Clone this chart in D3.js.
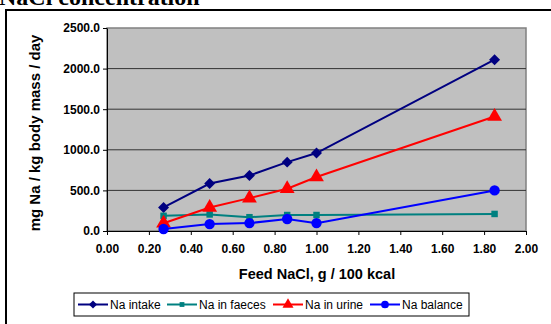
<!DOCTYPE html>
<html>
<head>
<meta charset="utf-8">
<script src="https://cdn.jsdelivr.net/npm/d3@7"></script>
<style>
body{margin:0;background:#fff;}
svg{display:block;}
.axis text{font-family:Arial,"Liberation Sans",sans-serif;font-weight:bold;font-size:12px;fill:#000;}
.axis path,.axis line{stroke:#000;}
</style>
</head>
<body>
<div id="graph"></div>
<script>
// data
var feedNaCl = [0.27, 0.49, 0.68, 0.86, 1.00, 1.85];
var naIntake = [290, 585, 683, 848, 960, 2110];
var naFaeces = [187, 204, 170, 197, 197, 210];
var naUrine = [95, 290, 405, 520, 665, 1410];
var naBalance = [25, 85, 97, 148, 97, 500];
var seriesNames = ["Na intake", "Na in faeces", "Na in urine", "Na balance"];
var xTicks = [0, 0.2, 0.4, 0.6, 0.8, 1.0, 1.2, 1.4, 1.6, 1.8, 2.0];
var yTicks = [0, 500, 1000, 1500, 2000, 2500];

var W = 551, H = 324;
var plot = {left: 107, right: 526, top: 28, bottom: 231};

var svg = d3.select('#graph').append('svg')
    .attr('width', W)
    .attr('height', H);

// title, cut off at the top like in the original
svg.append('text')
    .attr('x', -1)
    .attr('y', 5)
    .style('font-family', '"Liberation Serif","Times New Roman",serif')
    .style('font-weight', 'bold')
    .style('font-size', '24px')
    .text('NaCl concentration');

// chart box
svg.append('path')
    .attr('d', 'M' + 6 + ',' + (H + 5) + 'V10H' + (W + 5))
    .attr('fill', 'none')
    .attr('stroke', '#000')
    .attr('stroke-width', 2);

var xScale = d3.scaleLinear().domain([0, 2]).range([plot.left, plot.right]);
var yScale = d3.scaleLinear().domain([0, 2500]).range([plot.bottom, plot.top]);

// plot area
svg.append('rect')
    .attr('x', plot.left)
    .attr('y', plot.top)
    .attr('width', plot.right - plot.left)
    .attr('height', plot.bottom - plot.top)
    .attr('fill', '#c0c0c0')
    .attr('stroke', '#808080')
    .attr('stroke-width', 1.5);

// gridlines
svg.append('g')
    .selectAll('line')
    .data(yTicks.slice(1, -1))
    .enter()
    .append('line')
    .attr('x1', plot.left)
    .attr('x2', plot.right)
    .attr('y1', function(d){ return yScale(d); })
    .attr('y2', function(d){ return yScale(d); })
    .attr('stroke', '#333')
    .attr('stroke-width', 1);

var xAxis = d3.axisBottom(xScale).tickValues(xTicks).tickSize(4).tickSizeOuter(0)
    .tickFormat(d3.format('.2f'));
svg.append('g')
    .attr('class', 'axis')
    .attr('transform', 'translate(0,' + plot.bottom + ')')
    .call(xAxis)
    .call(function(g){ g.selectAll('text').attr('y', 13).attr('dy', '0.71em'); });

var yAxis = d3.axisLeft(yScale).tickValues(yTicks).tickSize(4).tickSizeOuter(0)
    .tickFormat(d3.format('.1f'));
svg.append('g')
    .attr('class', 'axis')
    .attr('transform', 'translate(' + plot.left + ',0)')
    .call(yAxis)
    .call(function(g){ g.selectAll('text').attr('x', -7); });

// axis titles
svg.append('text')
    .attr('x', 317)
    .attr('y', 279)
    .attr('text-anchor', 'middle')
    .style('font-family', 'Arial,"Liberation Sans",sans-serif')
    .style('font-weight', 'bold')
    .style('font-size', '14.5px')
    .text('Feed NaCl, g / 100 kcal');

svg.append('text')
    .attr('transform', 'translate(40,' + 133 + ') rotate(-90)')
    .attr('text-anchor', 'middle')
    .style('font-family', 'Arial,"Liberation Sans",sans-serif')
    .style('font-weight', 'bold')
    .style('font-size', '15px')
    .text('mg Na / kg body mass / day');

// series
var series = [
    {name: seriesNames[0], values: naIntake, color: '#000080', symbol: d3.symbolSquare, size: 60, rot: 45},
    {name: seriesNames[1], values: naFaeces, color: '#008080', symbol: d3.symbolSquare, size: 42, rot: 0},
    {name: seriesNames[2], values: naUrine, color: '#ff0000', symbol: d3.symbolTriangle, size: 95, rot: 0},
    {name: seriesNames[3], values: naBalance, color: '#0000ff', symbol: d3.symbolCircle, size: 85, rot: 0}
];

var line = d3.line()
    .x(function(d){ return xScale(d[0]); })
    .y(function(d){ return yScale(d[1]); });

series.forEach(function(s){
    var pts = feedNaCl.map(function(x, i){ return [x, s.values[i]]; });
    svg.append('path')
        .attr('d', line(pts))
        .attr('fill', 'none')
        .attr('stroke', s.color)
        .attr('stroke-width', 2);
    svg.append('g')
        .selectAll('path')
        .data(pts)
        .enter()
        .append('path')
        .attr('d', d3.symbol().type(s.symbol).size(s.size))
        .attr('transform', function(d){
            return 'translate(' + xScale(d[0]) + ',' + yScale(d[1]) + ') rotate(' + s.rot + ')';
        })
        .attr('fill', s.color);
});

// legend
var legend = svg.append('g').attr('transform', 'translate(74,293)');
legend.append('rect')
    .attr('x', 0)
    .attr('y', 0)
    .attr('width', 395)
    .attr('height', 23)
    .attr('fill', '#fff')
    .attr('stroke', '#000')
    .attr('stroke-width', 1);
var legendX = [4, 93, 199, 296];
series.forEach(function(s, i){
    var g = legend.append('g').attr('transform', 'translate(' + legendX[i] + ',11.5)');
    g.append('line')
        .attr('x1', 0).attr('x2', 30)
        .attr('stroke', s.color)
        .attr('stroke-width', 2);
    g.append('path')
        .attr('d', d3.symbol().type(s.symbol).size(s.size * 0.55))
        .attr('transform', 'translate(15,0) rotate(' + s.rot + ')')
        .attr('fill', s.color);
    g.append('text')
        .attr('x', 32)
        .attr('y', 4)
        .style('font-family', 'Arial,"Liberation Sans",sans-serif')
        .style('font-size', '12px')
        .text(s.name);
});
</script>
</body>
</html>
